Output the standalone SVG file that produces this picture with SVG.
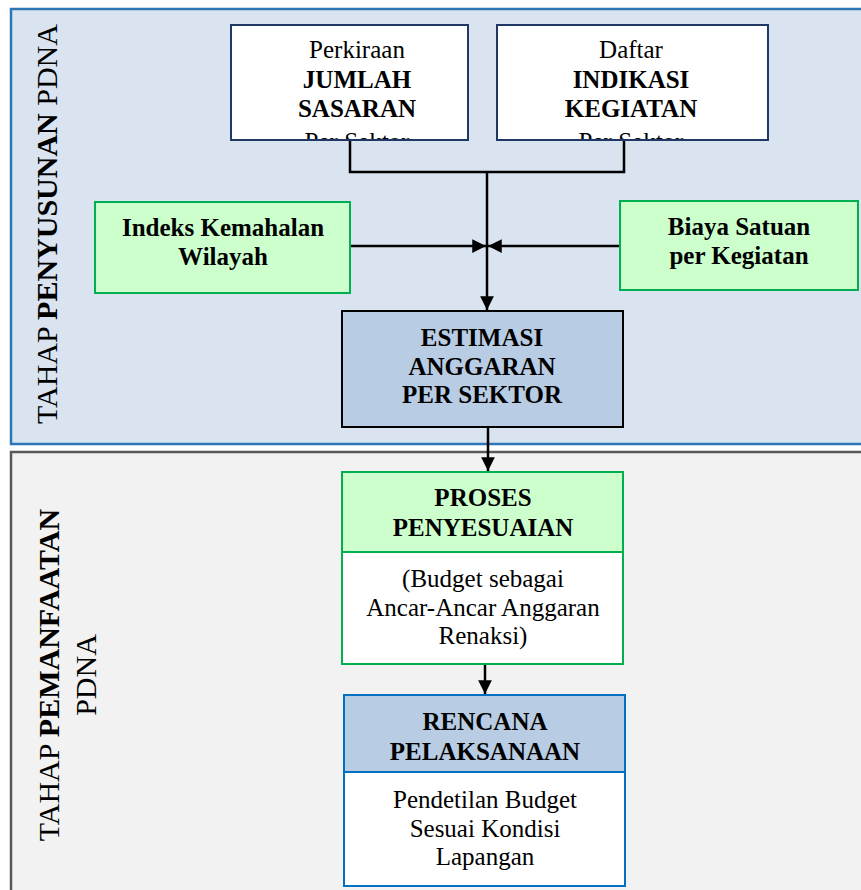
<svg xmlns="http://www.w3.org/2000/svg" width="861" height="890" viewBox="0 0 861 890">
<style>
text{font-family:"Liberation Serif","Times New Roman",serif;font-size:25px;fill:#000;text-anchor:middle}
.b{font-weight:bold}
.title{font-size:30px;text-anchor:middle}
.conn{fill:none;stroke:#000;stroke-width:2.5}
.top{fill:#fff;stroke:#1f3864;stroke-width:2}
.green{fill:#ccffcc;stroke:#00b050;stroke-width:2}
</style>
<defs>
<marker id="ah" viewBox="0 0 10 10" refX="10" refY="5" markerWidth="5.5" markerHeight="5.5" markerUnits="strokeWidth" orient="auto">
<path d="M0,0 L10,5 L0,10 z" fill="#000"/>
</marker>
<clipPath id="c1"><rect x="232" y="26" width="235" height="113"/></clipPath>
<clipPath id="c2"><rect x="498" y="26" width="269" height="113"/></clipPath>
</defs>
<g id="panel-penyusunan">
<rect x="11" y="9" width="870" height="435" fill="#dae3f0" stroke="#2e75b6" stroke-width="2.5"/>
<text class="title" transform="translate(57,224) rotate(-90)">TAHAP <tspan class="b">PENYUSUNAN</tspan> PDNA</text>
</g>
<g id="panel-pemanfaatan">
<rect x="11" y="452" width="870" height="460" fill="#f2f2f2" stroke="#595959" stroke-width="2.5"/>
<text class="title" transform="translate(59,675) rotate(-90)">TAHAP <tspan class="b">PEMANFAATAN</tspan></text>
<text class="title" transform="translate(96,675) rotate(-90)">PDNA</text>
</g>
<g id="connectors">
<path class="conn" d="M350 140 V172 H624 V140"/>
<path class="conn" d="M487 172 V310" marker-end="url(#ah)"/>
<path class="conn" d="M350 246 H486" marker-end="url(#ah)"/>
<path class="conn" d="M620 246 H488" marker-end="url(#ah)"/>
<path class="conn" d="M488 427 V471" marker-end="url(#ah)"/>
<path class="conn" d="M485 664 V694" marker-end="url(#ah)"/>
</g>
<g id="jumlah-sasaran">
<rect class="top" x="231" y="25" width="237" height="115"/>
<g clip-path="url(#c1)">
<text x="357" y="58">Perkiraan</text>
<text class="b" x="357" y="88">JUMLAH</text>
<text class="b" x="357" y="117">SASARAN</text>
<text x="357" y="150">Per Sektor</text>
</g>
</g>
<g id="indikasi-kegiatan">
<rect class="top" x="497" y="25" width="271" height="115"/>
<g clip-path="url(#c2)">
<text x="631" y="58">Daftar</text>
<text class="b" x="631" y="88">INDIKASI</text>
<text class="b" x="631" y="117">KEGIATAN</text>
<text x="631" y="150">Per Sektor</text>
</g>
</g>
<g id="indeks-kemahalan">
<rect class="green" x="95" y="202" width="255" height="91"/>
<text class="b" x="223" y="236">Indeks Kemahalan</text>
<text class="b" x="223" y="265">Wilayah</text>
</g>
<g id="biaya-satuan">
<rect class="green" x="620" y="201" width="238" height="89"/>
<text class="b" x="739" y="235">Biaya Satuan</text>
<text class="b" x="739" y="264">per Kegiatan</text>
</g>
<g id="estimasi-anggaran">
<rect x="342" y="311" width="281" height="116" fill="#b8cce4" stroke="#000" stroke-width="2"/>
<text class="b" x="482" y="346">ESTIMASI</text>
<text class="b" x="482" y="375">ANGGARAN</text>
<text class="b" x="482" y="403">PER SEKTOR</text>
</g>
<g id="proses-penyesuaian">
<rect x="342" y="472" width="281" height="192" fill="#fff" stroke="#00b050" stroke-width="2"/>
<rect class="green" x="342" y="472" width="281" height="80"/>
<text class="b" x="483" y="506">PROSES</text>
<text class="b" x="483" y="536">PENYESUAIAN</text>
<text x="483" y="587">(Budget sebagai</text>
<text x="483" y="616">Ancar-Ancar Anggaran</text>
<text x="483" y="644">Renaksi)</text>
</g>
<g id="rencana-pelaksanaan">
<rect x="344" y="695" width="281" height="191" fill="#fff" stroke="#0070c0" stroke-width="2"/>
<rect x="344" y="695" width="281" height="77" fill="#b8cce4" stroke="#0070c0" stroke-width="2"/>
<text class="b" x="485" y="730">RENCANA</text>
<text class="b" x="485" y="760">PELAKSANAAN</text>
<text x="485" y="808">Pendetilan Budget</text>
<text x="485" y="837">Sesuai Kondisi</text>
<text x="485" y="865">Lapangan</text>
</g>
</svg>
